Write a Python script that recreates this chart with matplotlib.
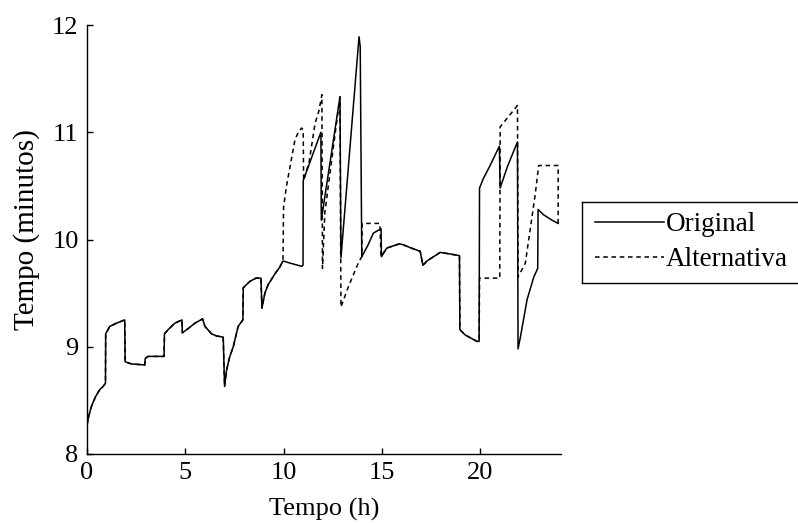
import matplotlib
matplotlib.use("Agg")
import matplotlib.pyplot as plt
from matplotlib.lines import Line2D

# Shared part of both series (hours, minutes)
shared_hours = [0.0, 0.1, 0.22, 0.35, 0.48, 0.65, 0.82, 0.94, 0.95, 1.16, 1.5, 1.92,
                1.94, 2.26, 2.94, 2.96, 3.1, 3.92, 3.94, 4.13, 4.47, 4.83, 4.85, 5.15,
                5.49, 5.88, 6.0, 6.34, 6.6, 6.93, 7.0, 7.1, 7.25, 7.44, 7.69, 7.93,
                7.95, 8.29, 8.6, 8.85, 8.9, 9.05, 9.22, 9.56, 9.8, 9.97]
shared_minutes = [8.27, 8.36, 8.44, 8.5, 8.55, 8.6, 8.63, 8.66, 9.12, 9.19, 9.22, 9.25,
                  8.86, 8.84, 8.83, 8.89, 8.91, 8.91, 9.12, 9.16, 9.22, 9.25, 9.13, 9.17,
                  9.22, 9.26, 9.19, 9.12, 9.1, 9.09, 8.63, 8.78, 8.9, 9.0, 9.19, 9.25,
                  9.55, 9.61, 9.64, 9.64, 9.36, 9.5, 9.58, 9.68, 9.74, 9.8]

# Original schedule after 10 h
original_hours = [10.33, 10.92, 10.99, 11.0, 11.9, 11.92, 12.87, 12.92, 13.84, 13.9,
                  13.98, 14.3, 14.57, 14.96, 14.98, 15.25, 15.9, 16.1, 16.5, 16.95,
                  17.09, 17.3, 17.97, 18.3, 18.95, 18.97, 19.24, 19.84, 19.95, 19.97,
                  20.17, 20.51, 20.98, 21.02, 21.39, 21.9, 21.93, 22.05, 22.39, 22.73,
                  22.93, 22.95, 23.23, 23.66, 23.97]
original_minutes = [9.78, 9.75, 9.76, 10.55, 11.0, 10.18, 11.33, 9.83, 11.89, 11.8,
                    9.84, 9.95, 10.06, 10.1, 9.84, 9.92, 9.96, 9.95, 9.92, 9.89,
                    9.76, 9.8, 9.88, 9.87, 9.85, 9.16, 9.11, 9.05, 9.05, 10.48,
                    10.57, 10.69, 10.87, 10.48, 10.68, 10.91, 8.98, 9.09, 9.44, 9.65,
                    9.73, 10.28, 10.23, 10.18, 10.15]

# Alternative schedule after 10 h
alternative_hours = [10.0, 10.15, 10.33, 10.58, 10.75, 10.92, 11.0, 11.02, 11.3, 11.6,
                     11.8, 11.95, 11.98, 12.1, 12.87, 12.92, 13.3, 13.8, 13.98, 14.0,
                     14.9, 14.96, 15.25, 15.9, 16.1, 16.5, 16.95, 17.09, 17.3, 17.97,
                     18.3, 18.95, 18.97, 19.24, 19.84, 19.95, 19.97, 21.0, 21.02, 21.55,
                     21.9, 21.93, 22.3, 22.64, 22.81, 22.98, 23.97, 23.97]
alternative_minutes = [10.3, 10.5, 10.68, 10.93, 11.0, 11.04, 11.02, 10.55, 10.72, 11.08,
                       11.2, 11.35, 9.73, 10.25, 11.33, 9.37, 9.56, 9.78, 9.84, 10.15,
                       10.15, 9.84, 9.92, 9.96, 9.95, 9.92, 9.89, 9.76, 9.8, 9.88,
                       9.87, 9.85, 9.16, 9.11, 9.05, 9.05, 9.64, 9.64, 11.05, 11.17,
                       11.25, 9.65, 9.78, 10.21, 10.43, 10.69, 10.69, 10.15]

series_labels = ["Original", "Alternativa"]
x_ticks = [0, 5, 10, 15, 20]
y_ticks = [8, 9, 10, 11, 12]

plt.rcParams["font.family"] = ["Liberation Serif", "DejaVu Serif"]

W, H = 798, 523
fig = plt.figure(figsize=(W / 100, H / 100), dpi=100)
ax = fig.add_axes([87 / W, 1 - 454 / H, (560.7 - 87) / W, (454 - 25) / H])

orig_x = shared_hours + original_hours
orig_y = shared_minutes + original_minutes
alt_x = shared_hours + alternative_hours
alt_y = shared_minutes + alternative_minutes

dash = (0, (3.0, 2.4))
ax.plot(orig_x, orig_y, color="black", lw=1.1, label=series_labels[0])
ax.plot(alt_x, alt_y, color="black", lw=1.1, linestyle=dash, label=series_labels[1])

ax.set_xlim(0, 24.1)
ax.set_ylim(8, 12)
ax.set_xticks(x_ticks)
ax.set_yticks(y_ticks)
for side in ("top", "right"):
    ax.spines[side].set_visible(False)
for side in ("left", "bottom"):
    ax.spines[side].set_linewidth(1.0)
ax.tick_params(direction="in", length=4, width=1.0, labelsize=19, pad=6)

ax.set_xlabel("Tempo (h)", fontsize=19)
ax.set_ylabel("Tempo (minutos)", fontsize=21)
ax.xaxis.set_label_coords(0.5, -0.102)
ax.yaxis.set_label_coords(-0.1, 0.522)

# legend entries without their own frame; the box runs off the right edge
leg = fig.legend(loc="upper left", bbox_to_anchor=(595 / W, 1 - 212 / H),
                 fontsize=19.5, frameon=False,
                 handlelength=2.55, handletextpad=0.05, borderpad=0.0,
                 labelspacing=0.38, borderaxespad=0)
x0, x1 = 582 / W, 1.0
y_top, y_bot = 1 - 202 / H, 1 - 283 / H
for xs, ys in (([x0, x1], [y_top, y_top]),
               ([x0, x0], [y_top, y_bot]),
               ([x0, x1], [y_bot, y_bot])):
    fig.add_artist(Line2D(xs, ys, transform=fig.transFigure,
                          color="black", linewidth=1.0))

fig.savefig("out.png", dpi=100)
